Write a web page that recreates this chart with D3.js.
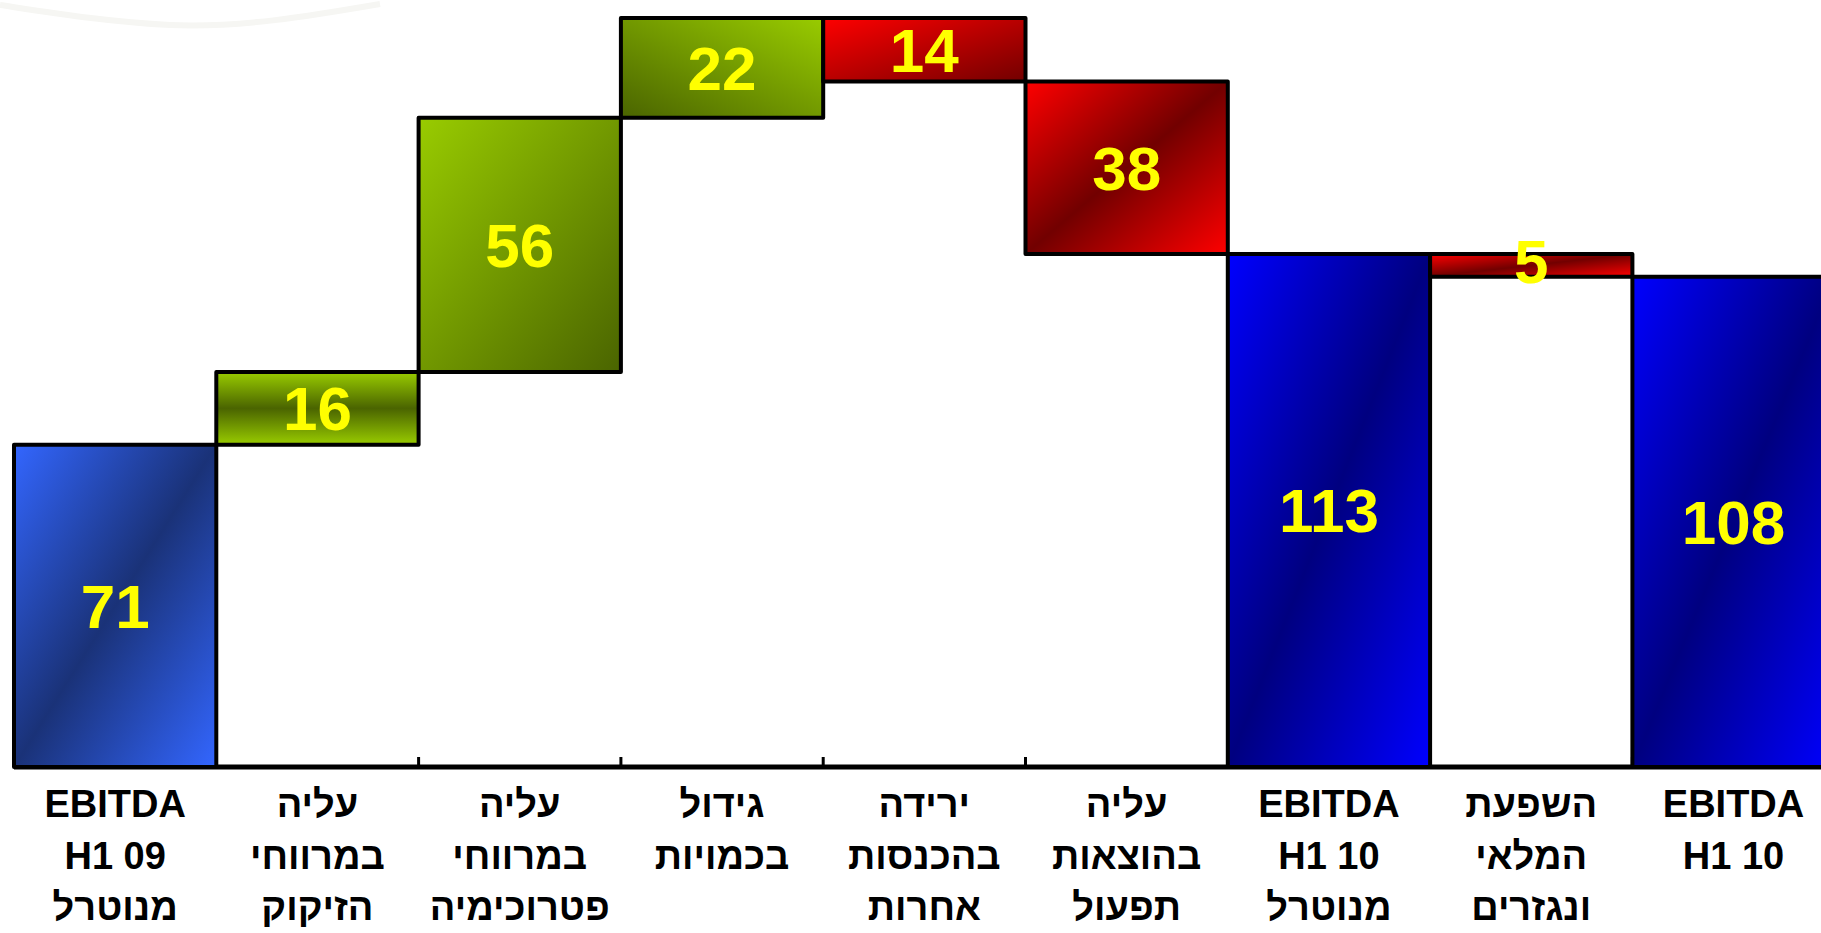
<!DOCTYPE html>
<html>
<head>
<meta charset="utf-8">
<script src="https://cdn.jsdelivr.net/npm/d3@7"></script>
<style>
  html, body { margin: 0; padding: 0; background: #ffffff; overflow: hidden; }
  svg { display: block; }
  text { font-family: "Liberation Sans", Arial, "DejaVu Sans", sans-serif; font-weight: bold; }
</style>
</head>
<body>
<script>
// ---- data ----
const categories = ["c1", "c2", "c3", "c4", "c5", "c6", "c7", "c8", "c9"];
const values = [71, 16, 56, 22, -14, -38, 113, -5, 108];
const kinds = ["total", "delta", "delta", "delta", "delta", "delta", "total", "delta", "total"];
const labelLines = [
  ["EBITDA", "H1 09", "מנוטרל"],
  ["עליה", "במרווחי", "הזיקוק"],
  ["עליה", "במרווחי", "פטרוכימיה"],
  ["גידול", "בכמויות"],
  ["ירידה", "בהכנסות", "אחרות"],
  ["עליה", "בהוצאות", "תפעול"],
  ["EBITDA", "H1 10", "מנוטרל"],
  ["השפעת", "המלאי", "ונגזרים"],
  ["EBITDA", "H1 10"]
];
const valueLabels = ["71", "16", "56", "22", "14", "38", "113", "5", "108"];

// ---- layout ----
const W = 1821, H = 933;
const svg = d3.select("body").append("svg").attr("width", W).attr("height", H);

const x = d3.scaleBand().domain(categories).range([14, 14 + 9 * 202.3]).padding(0);
const y = d3.scaleLinear().domain([0, 165]).range([767, 17.9]);

// running totals
let run = 0;
const bars = categories.map((c, i) => {
  let lo, hi;
  if (kinds[i] === "total") { lo = 0; hi = values[i]; run = values[i]; }
  else { const s = run; run = run + values[i]; lo = Math.min(s, run); hi = Math.max(s, run); }
  return { c, i, lo, hi };
});

// ---- gradients (styles) ----
const defs = svg.append("defs");
function grad(id, x1, y1, x2, y2, stops) {
  const g = defs.append("linearGradient").attr("id", id)
    .attr("x1", x1).attr("y1", y1).attr("x2", x2).attr("y2", y2);
  stops.forEach(s => g.append("stop").attr("offset", s[0]).attr("stop-color", s[1]));
}
const GL = "#99cc00", GD = "#4a6400";
const RL = "#ff0000", RD = "#720000";
const BL = "#0000ff", BD = "#000080";
const SL = "#3366ff", SD = "#1a3278";
grad("g0", 0, 0, 1, 1, [[0, SL], [0.5, SD], [1, SL]]);
grad("g1", 0, 0, 0, 1, [[0, GL], [0.5, GD], [1, GL]]);
grad("g2", 0, 0, 1, 1, [[0, GL], [1, GD]]);
grad("g3", 0, 1, 1, 0, [[0, GD], [1, GL]]);
grad("g4", 0, 0, 1, 1, [[0, RL], [1, RD]]);
grad("g5", 0, 0, 1, 1, [[0, RL], [0.5, RD], [1, RL]]);
grad("g6", 0, 0, 1, 1, [[0, BL], [0.5, BD], [1, BL]]);
grad("g7", 0, 0, 1, 1, [[0, RL], [0.5, RD], [1, RL]]);
grad("g8", 0, 0, 1, 1, [[0, BL], [0.5, BD], [1, BL]]);

// faint decorative swoosh in the background
svg.append("path")
  .attr("d", "M0,5 C60,14 110,22 170,25 C240,28 310,16 380,4")
  .attr("fill", "none").attr("stroke", "#f6f6f3").attr("stroke-width", 6);

// ---- axis ----
const axisG = svg.append("g");
axisG.append("line")
  .attr("x1", x(categories[0])).attr("x2", W)
  .attr("y1", y(0)).attr("y2", y(0))
  .attr("stroke", "#000").attr("stroke-width", 5);
axisG.selectAll("line.tick").data(categories.slice(1)).enter().append("line")
  .attr("class", "tick")
  .attr("x1", d => x(d)).attr("x2", d => x(d))
  .attr("y1", y(0)).attr("y2", y(0) - 10)
  .attr("stroke", "#000").attr("stroke-width", 3);

// ---- bars ----
svg.selectAll("rect.bar").data(bars).enter().append("rect")
  .attr("class", "bar")
  .attr("x", d => x(d.c))
  .attr("width", x.bandwidth())
  .attr("y", d => y(d.hi))
  .attr("height", d => y(d.lo) - y(d.hi))
  .attr("fill", d => `url(#g${d.i})`)
  .attr("stroke", "#000").attr("stroke-width", 4)
  .attr("stroke-linejoin", "round");

// ---- value labels ----
svg.selectAll("text.val").data(bars).enter().append("text")
  .attr("class", "val")
  .attr("x", d => x(d.c) + x.bandwidth() / 2)
  .attr("y", d => (y(d.hi) + y(d.lo)) / 2 + 22 - (d.i === 7 ? 4 : 0))
  .attr("text-anchor", "middle")
  .attr("font-size", 62)
  .attr("fill", "#ffff00")
  .text(d => valueLabels[d.i]);

// ---- category labels ----
const lineY = [817, 869, 920];
const lab = svg.selectAll("text.cat").data(bars).enter().append("text")
  .attr("class", "cat")
  .attr("text-anchor", "middle")
  .attr("font-size", 38)
  .attr("fill", "#000");
lab.each(function (d) {
  const t = d3.select(this);
  labelLines[d.i].forEach((ln, k) => {
    t.append("tspan")
      .attr("x", x(d.c) + x.bandwidth() / 2)
      .attr("y", lineY[k])
      .text(ln);
  });
});
</script>
</body>
</html>
